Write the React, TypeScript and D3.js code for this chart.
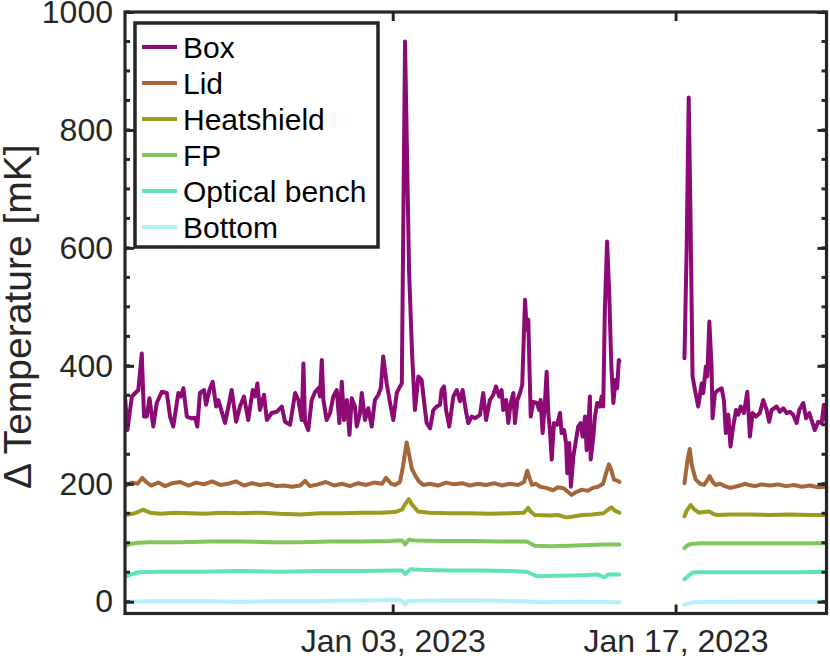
import { useEffect, useRef } from 'react';
import * as d3 from 'd3';

// time = days after Jan 03, 2023 00:00, value = mK. NaN marks the data gap.
const seriesNames = ['Box', 'Lid', 'Heatshield', 'FP', 'Optical bench', 'Bottom'];
const seriesColors = ['#8c0a73', '#a5673a', '#9e9a1f', '#80c65c', '#5fe3bf', '#b2f1fa'];

const boxData: [number, number][] = [
    [-13.25, 348], [-13.13, 291], [-12.91, 348], [-12.59, 359], [-12.42, 421], [-12.31, 314], [-12.17, 314],
    [-12.04, 345], [-11.85, 297], [-11.68, 337], [-11.43, 356], [-11.18, 354], [-11.02, 314], [-10.86, 297],
    [-10.61, 354], [-10.49, 348], [-10.36, 362], [-10.19, 314], [-9.95, 311], [-9.78, 312], [-9.67, 297],
    [-9.54, 354], [-9.34, 359], [-9.24, 334], [-9.07, 359], [-8.91, 373], [-8.74, 331], [-8.63, 342],
    [-8.46, 322], [-8.30, 303], [-8.13, 331], [-7.97, 359], [-7.75, 305], [-7.56, 331], [-7.36, 348],
    [-7.15, 308], [-6.93, 359], [-6.81, 348], [-6.70, 370], [-6.57, 325], [-6.37, 351], [-6.23, 308],
    [-5.99, 320], [-5.74, 322], [-5.49, 331], [-5.33, 305], [-5.08, 300], [-4.83, 354], [-4.67, 342],
    [-4.50, 308], [-4.42, 404], [-4.34, 305], [-4.18, 291], [-4.01, 342], [-3.84, 356], [-3.68, 362],
    [-3.60, 348], [-3.51, 410], [-3.43, 342], [-3.27, 308], [-3.10, 320], [-2.94, 348], [-2.77, 359],
    [-2.64, 303], [-2.52, 373], [-2.41, 308], [-2.27, 342], [-2.14, 283], [-2.03, 345], [-1.87, 331],
    [-1.78, 297], [-1.62, 320], [-1.53, 354], [-1.37, 308], [-1.21, 328], [-1.04, 297], [-0.88, 342],
    [-0.71, 351], [-0.59, 362], [-0.47, 416], [-0.30, 370], [-0.13, 337], [0.03, 308], [0.20, 354],
    [0.36, 365], [0.45, 370], [0.61, 950], [0.81, 560], [0.96, 420], [1.10, 325], [1.27, 382],
    [1.43, 376], [1.60, 325], [1.68, 303], [1.85, 294], [2.01, 325], [2.18, 331], [2.34, 334],
    [2.42, 359], [2.54, 365], [2.64, 325], [2.80, 297], [3.00, 348], [3.17, 359], [3.33, 340],
    [3.46, 359], [3.63, 322], [3.74, 303], [3.91, 314], [4.07, 311], [4.32, 317], [4.48, 354],
    [4.62, 308], [4.81, 342], [4.98, 351], [5.11, 365], [5.27, 348], [5.39, 359], [5.47, 325],
    [5.61, 342], [5.72, 303], [5.84, 337], [5.97, 354], [6.05, 303], [6.17, 342], [6.30, 354],
    [6.41, 368], [6.55, 512], [6.63, 461], [6.71, 478], [6.83, 314], [6.96, 339], [7.13, 337],
    [7.25, 325], [7.32, 342], [7.42, 286], [7.54, 342], [7.62, 390], [7.70, 320], [7.78, 291],
    [7.87, 241], [7.98, 303], [8.14, 300], [8.28, 320], [8.36, 286], [8.48, 291], [8.58, 269],
    [8.64, 218], [8.74, 269], [8.82, 195], [8.94, 246], [9.07, 274], [9.18, 297], [9.30, 303],
    [9.40, 280], [9.52, 314], [9.60, 257], [9.68, 297], [9.76, 348], [9.80, 241], [9.93, 280],
    [10.01, 314], [10.12, 337], [10.26, 331], [10.34, 348], [10.42, 331], [10.50, 495], [10.61, 611],
    [10.71, 529], [10.82, 400], [10.92, 337], [11.03, 376], [11.11, 362], [11.19, 410], [11.22, 408],
    [12.8, NaN],
    [14.44, 413], [14.55, 600], [14.65, 855], [14.74, 650], [14.84, 382], [14.96, 359], [15.12, 331],
    [15.29, 370], [15.37, 354], [15.50, 399], [15.57, 382], [15.67, 475], [15.78, 399], [15.83, 311],
    [15.95, 354], [16.11, 359], [16.28, 362], [16.39, 342], [16.49, 286], [16.61, 317], [16.72, 263],
    [16.85, 297], [16.99, 325], [17.10, 317], [17.22, 331], [17.38, 320], [17.55, 356], [17.68, 280],
    [17.81, 320], [17.98, 314], [18.17, 320], [18.34, 342], [18.51, 325], [18.63, 305], [18.75, 325],
    [19.00, 331], [19.16, 322], [19.33, 328], [19.50, 320], [19.66, 322], [19.82, 317], [19.99, 303],
    [20.12, 325], [20.32, 337], [20.46, 311], [20.62, 320], [20.78, 303], [20.89, 291], [21.06, 305],
    [21.23, 303], [21.34, 334], [21.47, 305],
];

const lidData: [number, number][] = [
    [-13.25, 197], [-12.90, 202], [-12.63, 200], [-12.40, 210], [-12.20, 203], [-11.96, 197], [-11.61, 202],
    [-11.26, 196], [-10.91, 201], [-10.52, 203], [-10.12, 197], [-9.73, 202], [-9.34, 199], [-8.94, 204],
    [-8.54, 198], [-8.15, 200], [-7.75, 204], [-7.36, 197], [-6.96, 201], [-6.57, 198], [-6.17, 200],
    [-5.77, 196], [-5.38, 197], [-4.98, 195], [-4.58, 197], [-4.34, 205], [-4.10, 196], [-3.70, 199],
    [-3.31, 203], [-2.90, 197], [-2.51, 200], [-2.11, 196], [-1.72, 201], [-1.32, 198], [-0.92, 202],
    [-0.53, 200], [-0.33, 210], [-0.08, 200], [0.11, 198], [0.36, 203], [0.51, 230], [0.69, 270],
    [0.81, 250], [0.95, 225], [1.13, 213], [1.30, 204], [1.52, 198], [1.85, 200], [2.24, 197],
    [2.64, 202], [3.03, 199], [3.43, 201], [3.82, 197], [4.22, 200], [4.62, 198], [5.01, 201],
    [5.41, 197], [5.80, 200], [6.20, 198], [6.50, 203], [6.66, 222], [6.79, 208], [6.89, 198],
    [7.09, 200], [7.29, 195], [7.59, 193], [7.94, 189], [8.18, 194], [8.48, 192], [8.68, 186],
    [8.86, 181], [9.07, 186], [9.37, 190], [9.66, 188], [9.91, 193], [10.16, 195], [10.41, 200],
    [10.56, 218], [10.70, 233], [10.83, 222], [10.95, 207], [11.15, 205], [11.22, 203],
    [12.8, NaN],
    [14.44, 201], [14.59, 240], [14.70, 259], [14.81, 230], [15.00, 207], [15.21, 200], [15.40, 198],
    [15.55, 205], [15.69, 213], [15.84, 203], [15.98, 198], [16.20, 200], [16.44, 196], [16.71, 193],
    [16.94, 195], [17.18, 197], [17.43, 200], [17.63, 198], [17.93, 196], [18.27, 199], [18.67, 197],
    [19.06, 199], [19.46, 196], [19.86, 198], [20.25, 195], [20.65, 197], [21.05, 194], [21.47, 195],
];

const heatshieldData: [number, number][] = [
    [-13.25, 147], [-12.75, 150], [-12.36, 156], [-12.01, 151], [-11.51, 149], [-10.77, 151], [-10.03, 150],
    [-9.29, 149], [-8.55, 151], [-7.56, 150], [-6.57, 151], [-5.58, 149], [-4.58, 148], [-3.59, 150],
    [-2.60, 150], [-1.62, 151], [-0.63, 151], [0.11, 152], [0.46, 156], [0.61, 165], [0.79, 174],
    [0.95, 165], [1.25, 153], [1.85, 151], [2.84, 150], [3.82, 150], [4.81, 149], [5.80, 150],
    [6.50, 151], [6.70, 159], [6.85, 152], [7.03, 147], [7.81, 146], [8.18, 147], [8.58, 143],
    [8.87, 144], [9.37, 147], [9.86, 148], [10.43, 150], [10.66, 156], [10.83, 160], [11.01, 154],
    [11.22, 151],
    [12.8, NaN],
    [14.44, 145], [14.56, 155], [14.75, 164], [14.91, 157], [15.15, 151], [15.40, 152], [15.65, 153],
    [15.86, 149], [16.05, 147], [16.69, 148], [17.68, 148], [18.67, 147], [19.66, 148], [20.65, 147],
    [21.47, 147],
];

const fpData: [number, number][] = [
    [-13.25, 94], [-13.00, 98], [-12.62, 100], [-12.01, 101], [-10.52, 101], [-9.04, 102], [-7.56, 102],
    [-6.07, 101], [-4.58, 101], [-3.10, 102], [-1.62, 102], [-0.13, 103], [0.46, 104], [0.61, 97],
    [0.79, 105], [1.10, 104], [2.34, 103], [3.82, 103], [5.31, 102], [6.30, 102], [6.63, 102],
    [7.03, 95], [7.81, 94], [8.77, 95], [9.77, 96], [10.50, 97], [11.15, 97], [11.22, 97],
    [12.8, NaN],
    [14.44, 91], [14.56, 95], [14.75, 98], [15.21, 99], [16.69, 99], [18.17, 99], [19.66, 99], [21.47, 99],
];

const opticalBenchData: [number, number][] = [
    [-13.25, 42], [-13.00, 46], [-12.57, 50], [-11.51, 51], [-9.54, 51], [-7.56, 52], [-5.58, 51],
    [-3.59, 52], [-1.62, 52], [0.11, 53], [0.46, 53], [0.61, 47], [0.87, 55], [1.35, 54], [2.84, 53],
    [4.32, 53], [5.80, 52], [6.63, 51], [6.89, 47], [7.14, 43], [8.28, 44], [9.27, 45], [10.16, 46],
    [10.48, 41], [10.66, 46], [11.22, 46],
    [12.8, NaN],
    [14.44, 38], [14.66, 45], [14.88, 50], [16.20, 50], [18.17, 50], [20.15, 50], [21.47, 51],
];

const bottomData: [number, number][] = [
    [-13.25, 0], [-11.51, 1], [-9.54, 1], [-7.56, 0], [-5.58, 1], [-3.59, 1], [-1.62, 2], [0.11, 3],
    [0.46, 2], [0.61, -5], [0.76, 1], [2.34, 2], [4.32, 2], [6.30, 1], [7.29, -1], [9.27, 0], [11.22, -1],
    [12.8, NaN],
    [14.44, -5], [14.88, -1], [17.18, 0], [19.66, 0], [21.47, 0],
];

const allSeries = [boxData, lidData, heatshieldData, fpData, opticalBenchData, bottomData];

const xDomainDays = [-13.25, 21.47];
const xTickDays = [0, 14];
const yDomain = [-20, 1000];
const yTicks = [0, 200, 400, 600, 800, 1000];
const yMinorTicks = d3.range(0, 1001, 50);

const baseDate = new Date(2023, 0, 3);
const toDate = (days: number) => new Date(baseDate.getTime() + days * 86400000);

export default function App() {
    const ref = useRef<SVGSVGElement>(null);

    useEffect(() => {
        if (!ref.current) return;
        const svg = d3.select(ref.current);
        svg.selectAll('*').remove();

        const W = 830, H = 661;
        const margin = { top: 12, right: 3.5, bottom: 47.5, left: 125 };
        const width = W - margin.left - margin.right;
        const height = H - margin.top - margin.bottom;
        const ink = '#262626';
        const font = '"Liberation Sans", Arial, Helvetica, sans-serif';

        svg.attr('width', W).attr('height', H);
        svg.append('rect').attr('width', W).attr('height', H).attr('fill', '#fff');

        const g = svg.append('g').attr('transform', `translate(${margin.left},${margin.top})`);

        const x = d3.scaleTime()
            .domain([toDate(xDomainDays[0]), toDate(xDomainDays[1])])
            .range([0, width]);
        const y = d3.scaleLinear().domain(yDomain).range([height, 0]);

        // series lines
        const line = d3.line<[number, number]>()
            .defined(d => !Number.isNaN(d[1]))
            .x(d => x(toDate(d[0])))
            .y(d => y(d[1]));

        const clipId = 'plot-clip';
        g.append('clipPath').attr('id', clipId)
            .append('rect').attr('width', width).attr('height', height);

        g.append('g').attr('clip-path', `url(#${clipId})`)
            .selectAll('path')
            .data(allSeries)
            .enter()
            .append('path')
            .attr('d', d => line(d))
            .attr('fill', 'none')
            .attr('stroke', (_, i) => seriesColors[i])
            .attr('stroke-width', 4)
            .attr('stroke-linejoin', 'round')
            .attr('stroke-linecap', 'round');

        // minor y ticks (both sides)
        const minor = g.append('g');
        yMinorTicks.forEach(v => {
            minor.append('line').attr('x1', 0).attr('x2', 5).attr('y1', y(v)).attr('y2', y(v));
            minor.append('line').attr('x1', width).attr('x2', width - 5).attr('y1', y(v)).attr('y2', y(v));
        });
        minor.selectAll('line').attr('stroke', ink).attr('stroke-width', 3);

        // axes
        const yAxis = d3.axisLeft(y).tickValues(yTicks).tickSizeInner(-9).tickSizeOuter(0).tickPadding(12)
            .tickFormat(d3.format('d'));
        const yAxisG = g.append('g').call(yAxis);

        const xAxis = d3.axisBottom(x).tickValues(xTickDays.map(toDate)).tickSizeInner(-9).tickSizeOuter(0)
            .tickPadding(16).tickFormat(d => d3.timeFormat('%b %d, %Y')(d as Date));
        const xAxisG = g.append('g').attr('transform', `translate(0,${height})`).call(xAxis);

        g.append('g').attr('transform', `translate(${width},0)`)
            .call(d3.axisRight(y).tickValues(yTicks).tickSizeInner(-9).tickSizeOuter(0).tickFormat(() => ''));
        g.append('g')
            .call(d3.axisTop(x).tickValues(xTickDays.map(toDate)).tickSizeInner(-9).tickSizeOuter(0).tickFormat(() => ''));

        g.selectAll('.domain').remove();
        g.selectAll('.tick line').attr('stroke', ink).attr('stroke-width', 3);
        [yAxisG, xAxisG].forEach(a => a.selectAll('text')
            .attr('fill', ink).attr('font-family', font).attr('font-size', 32));

        g.append('rect')
            .attr('width', width).attr('height', height)
            .attr('fill', 'none').attr('stroke', ink).attr('stroke-width', 3.2);

        // y label
        svg.append('text')
            .attr('transform', `translate(31,${margin.top + height / 2 + 4}) rotate(-90)`)
            .attr('text-anchor', 'middle')
            .attr('fill', ink)
            .attr('font-family', font)
            .attr('font-size', 39)
            .text('Δ Temperature [mK]');

        // legend
        const lg = g.append('g').attr('transform', 'translate(10,11)');
        const rowH = 36;
        lg.append('rect')
            .attr('width', 243).attr('height', 224)
            .attr('fill', '#fff').attr('stroke', ink).attr('stroke-width', 3.5);
        const rows = lg.selectAll('.row')
            .data(seriesNames)
            .enter()
            .append('g')
            .attr('transform', (_, i) => `translate(0,${24 + i * rowH})`);
        rows.append('line')
            .attr('x1', 7).attr('x2', 42)
            .attr('stroke', (_, i) => seriesColors[i])
            .attr('stroke-width', 4);
        rows.append('text')
            .attr('x', 48)
            .attr('dy', '0.35em')
            .attr('fill', '#000')
            .attr('font-family', font)
            .attr('font-size', 30)
            .text(d => d);
    }, []);

    return (
        <div style={{ position: 'absolute', left: 0, top: 0 }}>
            <svg ref={ref} style={{ display: 'block' }} />
        </div>
    );
}
